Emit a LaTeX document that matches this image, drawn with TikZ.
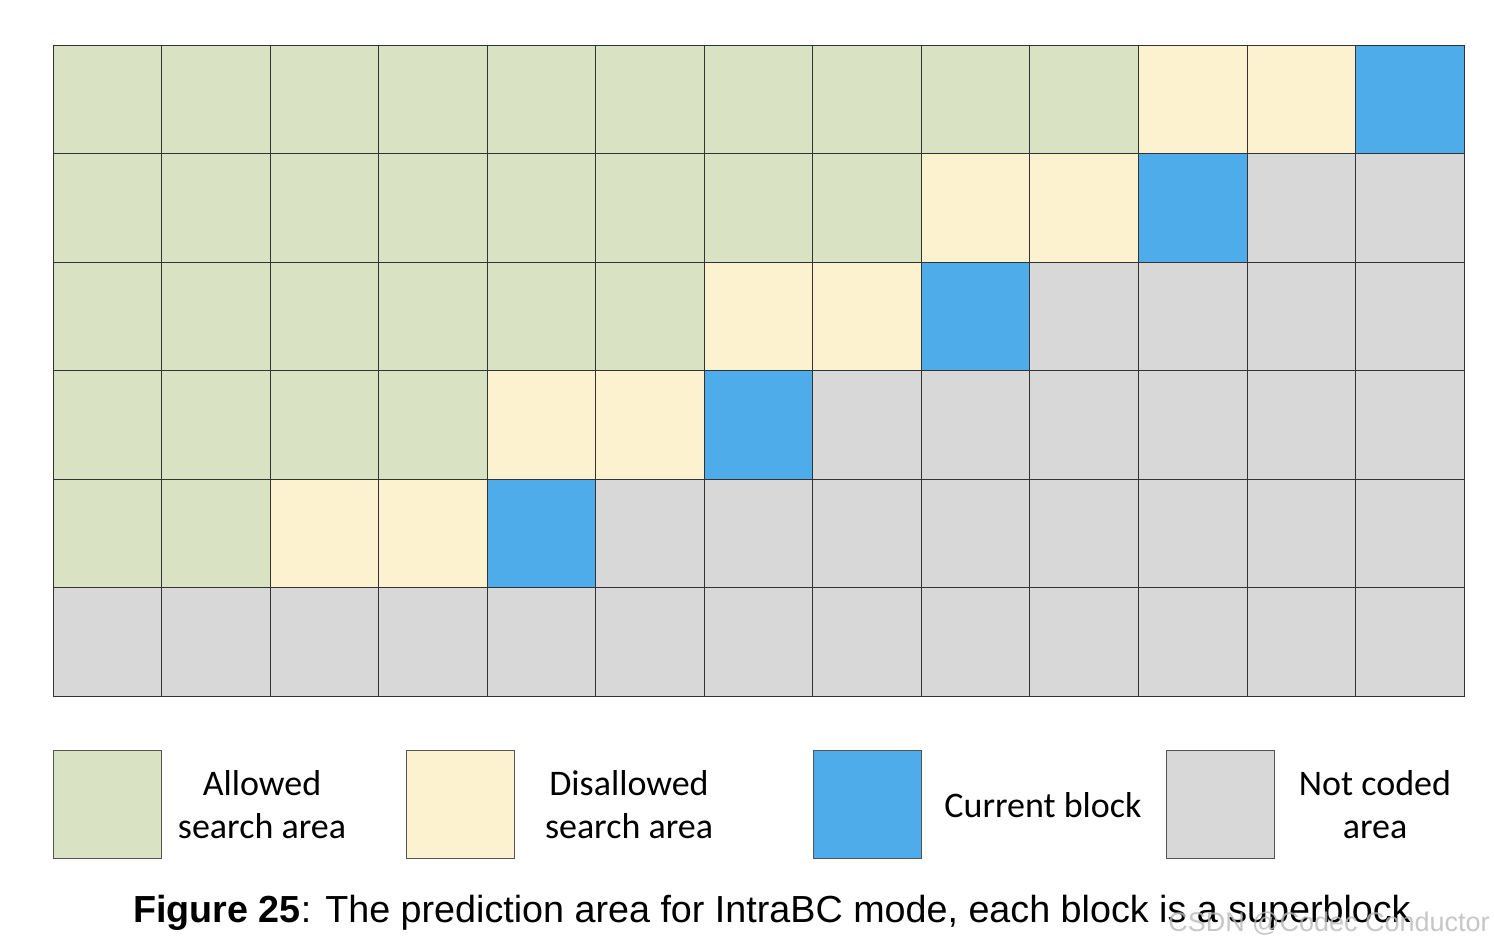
\documentclass[tikz,border=0pt]{standalone}
\usepackage{fontspec}
\setmainfont{Carlito}
\newfontfamily\capfont{Liberation Sans}
\definecolor{allowed}{HTML}{D9E2C2}
\definecolor{disallowed}{HTML}{FCF2D0}
\definecolor{current}{HTML}{4EACEA}
\definecolor{notcoded}{HTML}{D8D8D8}
\definecolor{gridline}{HTML}{333333}
\definecolor{legline}{HTML}{555555}
\begin{document}
\begin{tikzpicture}[x=1pt,y=-1pt,
  cell/.style={rectangle,draw=gridline,line width=0.8pt,minimum size=108.54pt,inner sep=0pt,outer sep=0pt},
  legbox/.style={rectangle,draw=legline,line width=0.8pt,minimum size=108pt,inner sep=0pt},
  legtext/.style={align=center,font=\fontsize{36}{43}\selectfont,inner sep=0pt},
  captext/.style={font=\capfont\fontsize{37.7}{42}\selectfont,inner sep=0pt},
  wmark/.style={font=\capfont\fontsize{27}{30}\selectfont,text=gray!55,opacity=0.8,inner sep=0pt}]
\useasboundingbox (0,0) rectangle (1494,950);
\fill[white] (0,0) rectangle (1494,950);
\def\s{108.54}
\foreach \r in {0,...,5}{%
  \foreach \c in {0,...,12}{%
    \pgfmathtruncatemacro\g{10-2*\r}%
    \pgfmathtruncatemacro\gy{\g+2}%
    \ifnum\r=5 \def\col{notcoded}\else
      \ifnum\c<\g \def\col{allowed}\else
        \ifnum\c<\gy \def\col{disallowed}\else
          \ifnum\c=\gy \def\col{current}\else \def\col{notcoded}\fi
        \fi
      \fi
    \fi
    \node[cell,fill=\col] (c-\r-\c) at ({53+(\c+0.5)*\s},{45+(\r+0.5)*\s}) {};
  }%
}
\node[legbox,fill=allowed] (lb1) at (107.5,804) {};
\node[legbox,fill=disallowed] (lb2) at (460.5,804) {};
\node[legbox,fill=current] (lb3) at (867,804) {};
\node[legbox,fill=notcoded] (lb4) at (1220,804) {};
\node[legtext] (lt1) at (262,805) {Allowed\\search area};
\node[legtext] (lt2) at (629,805) {Disallowed\\search area};
\node[legtext] (lt3) at (1043,805) {Current block};
\node[legtext] (lt4) at (1375,805) {Not coded\\area};
\node[captext] (cap) at (772,913) {\textbf{Figure 25}: The prediction area for IntraBC mode, each block is a superblock};
\node[wmark,anchor=east] (wm) at (1490,924) {CSDN @Codec Conductor};
\end{tikzpicture}
\end{document}
